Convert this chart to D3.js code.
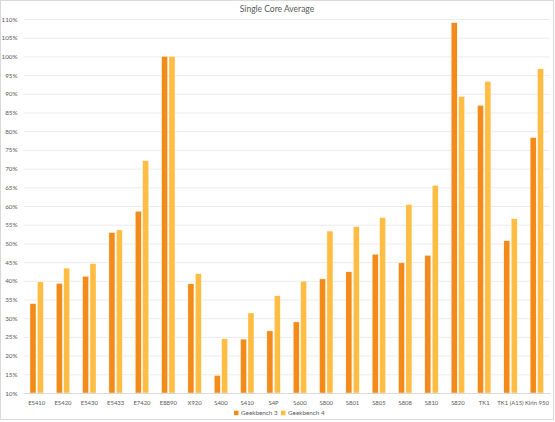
<!DOCTYPE html>
<html>
<head>
<meta charset="utf-8">
<script src="https://cdn.jsdelivr.net/npm/d3@7"></script>
<style>
  body { margin: 0; background: #fff; }
  svg text { font-family: Lato, "Open Sans", sans-serif; fill: #595959; }
</style>
</head>
<body>
<script>
const chips = ['E5410', 'E5420', 'E5430', 'E5433', 'E7420', 'E8890', 'X920', 'S400', 'S410', 'S4P',
  'S600', 'S800', 'S801', 'S805', 'S808', 'S810', 'S820', 'TK1', 'TK1 (A15)', 'Kirin 950']
const geekbench3 = [33.9, 39.3, 41.2, 52.9, 58.6, 100, 39.2, 14.7, 24.4, 26.6,
  29.0, 40.5, 42.4, 47.1, 44.8, 46.8, 109, 86.9, 50.7, 78.3]
const geekbench4 = [39.7, 43.4, 44.6, 53.6, 72.1, 100, 41.9, 24.5, 31.4, 36.0,
  39.9, 53.3, 54.5, 56.9, 60.4, 65.5, 89.3, 93.3, 56.6, 96.7]
const seriesNames = ['Geekbench 3', 'Geekbench 4']
const yTicks = [10, 15, 20, 25, 30, 35, 40, 45, 50, 55, 60, 65, 70, 75, 80, 85, 90, 95, 100, 105, 110]

const colors = ['#f38b1a', '#ffbd44']
const fullWidth = 555
const fullHeight = 422
const margins = { left: 23.5, top: 19, right: 5, bottom: 29 }

const rows = chips.map((c, i) => ({ chip: c, values: [geekbench3[i], geekbench4[i]] }))

const svg = d3.select('body').append('svg')
  .attr('width', fullWidth)
  .attr('height', fullHeight)

// chart border
svg.append('rect')
  .attr('x', 0.5).attr('y', 0.5)
  .attr('width', 553).attr('height', 419)
  .attr('fill', '#fff')
  .attr('stroke', '#d9d9d9')

const x = d3.scaleBand()
  .domain(chips)
  .range([margins.left, fullWidth - margins.right])
  .paddingInner(0.49)
  .paddingOuter(0.245)

const xSeries = d3.scaleBand()
  .domain(d3.range(seriesNames.length))
  .range([0, x.bandwidth()])
  .paddingInner(0.18)

const y = d3.scaleLinear()
  .domain([10, 110])
  .range([fullHeight - margins.bottom, margins.top])

// gridlines + y labels
const yAxis = d3.axisLeft(y)
  .tickValues(yTicks)
  .tickSize(-(fullWidth - margins.right - margins.left))
  .tickPadding(6)
  .tickFormat(d => d + '%')

svg.append('g')
  .attr('transform', `translate(${margins.left},0)`)
  .call(yAxis)
  .call(g => g.select('.domain').remove())
  .call(g => g.selectAll('.tick line').attr('stroke', '#e6e6e6').attr('stroke-width', 0.8))
  .call(g => g.selectAll('.tick text').attr('font-size', 6.3).attr('fill', '#595959'))

// bars
svg.append('g')
  .selectAll('g')
  .data(rows)
  .join('g')
  .attr('transform', d => `translate(${x(d.chip)},0)`)
  .selectAll('rect')
  .data(d => d.values)
  .join('rect')
  .attr('x', (d, i) => xSeries(i))
  .attr('width', xSeries.bandwidth())
  .attr('y', d => y(d))
  .attr('height', d => y(10) - y(d))
  .attr('fill', (d, i) => colors[i])
  .attr('stroke', '#fff')
  .attr('stroke-width', 0.4)

// x axis
const xAxis = d3.axisBottom(x).tickSize(0).tickPadding(8)
svg.append('g')
  .attr('transform', `translate(0,${y(10)})`)
  .call(xAxis)
  .call(g => g.select('.domain').attr('stroke', '#d9d9d9'))
  .call(g => g.selectAll('.tick text').attr('font-size', 5.9).attr('fill', '#595959'))

// title
svg.append('text')
  .attr('x', 277)
  .attr('y', 11.5)
  .attr('text-anchor', 'middle')
  .attr('font-size', 8.5)
  .text('Single Core Average')

// legend
const legend = svg.append('g')
  .selectAll('g')
  .data(seriesNames)
  .join('g')
  .attr('transform', (d, i) => `translate(${234 + i * 47},413)`)

legend.append('rect')
  .attr('x', 0).attr('y', -2.3)
  .attr('width', 4.5).attr('height', 4.5)
  .attr('fill', (d, i) => colors[i])

legend.append('text')
  .attr('x', 7)
  .attr('dy', '0.35em')
  .attr('font-size', 6.3)
  .text(d => d)
</script>
</body>
</html>
